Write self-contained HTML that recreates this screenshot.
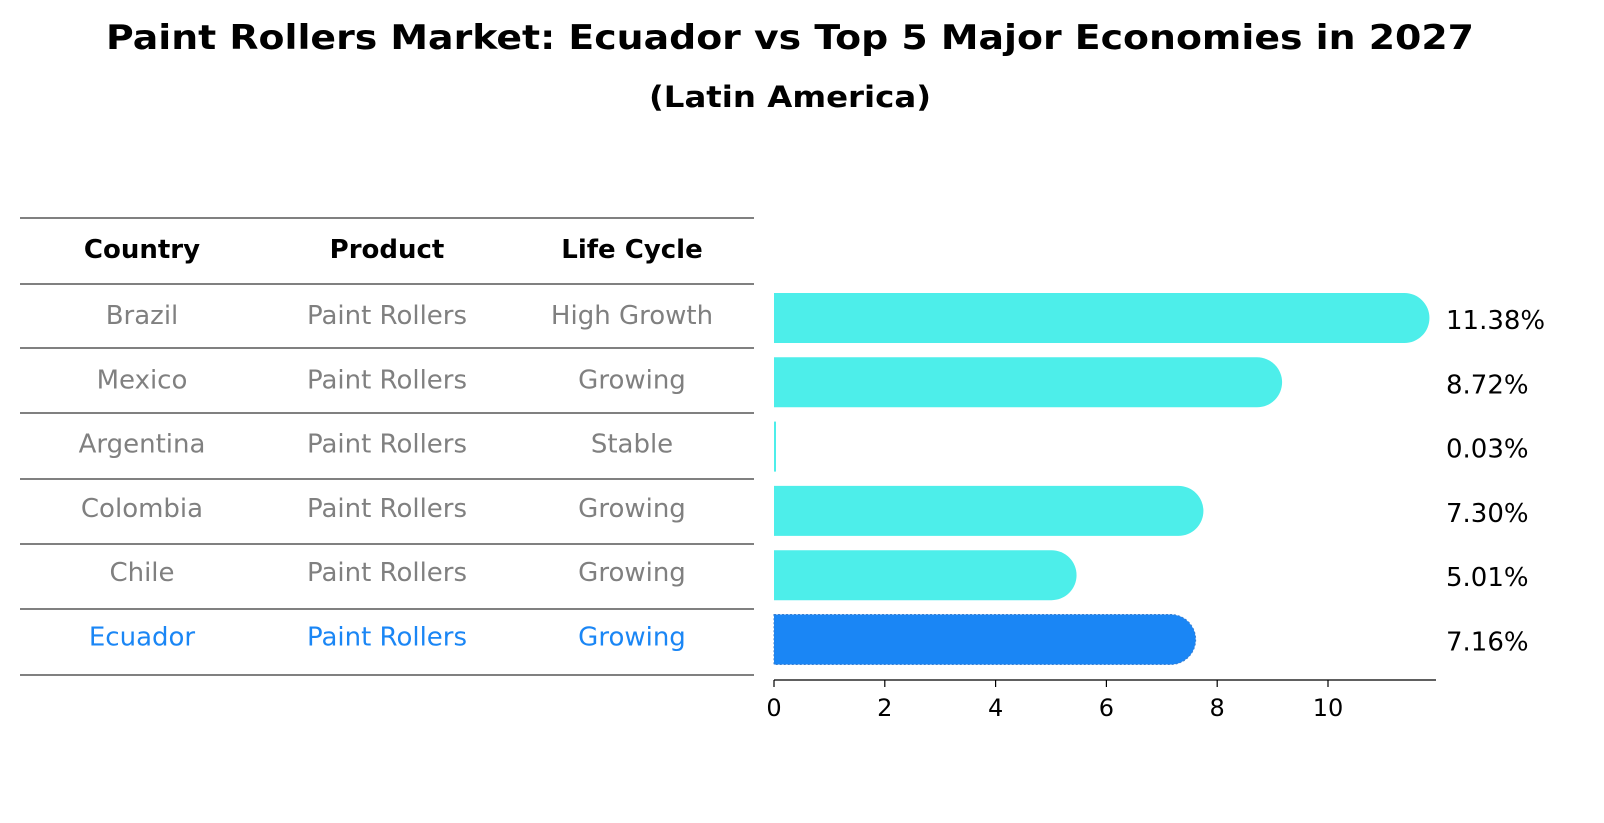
<!DOCTYPE html>
<html><head><meta charset="utf-8"><style>
body{margin:0;background:#fff;}
svg{display:block;font-family:"DejaVu Sans","Liberation Sans",sans-serif;}
</style></head><body>
<svg id="c" width="1604" height="823" viewBox="0 0 1604 823">
<text x="790" y="49" text-anchor="middle" font-size="34" font-weight="bold" textLength="1368" lengthAdjust="spacingAndGlyphs">Paint Rollers Market: Ecuador vs Top 5 Major Economies in 2027</text>
<text x="790" y="107" text-anchor="middle" font-size="29" font-weight="bold" textLength="282" lengthAdjust="spacingAndGlyphs">(Latin America)</text>
<g id="table"></g>
<g id="bars"></g>
</svg>
<script>
const countries=["Brazil","Mexico","Argentina","Colombia","Chile","Ecuador"];
const products=["Paint Rollers","Paint Rollers","Paint Rollers","Paint Rollers","Paint Rollers","Paint Rollers"];
const lifeCycles=["High Growth","Growing","Stable","Growing","Growing","Growing"];
const growth=[11.38,8.72,0.03,7.30,5.01,7.16];
const ticks=[0,2,4,6,8,10];
const NS="http://www.w3.org/2000/svg";
function mk(tag,attrs,parent,txt){const e=document.createElementNS(NS,tag);for(const k in attrs)e.setAttribute(k,attrs[k]);if(txt!==undefined)e.textContent=txt;parent.appendChild(e);return e;}
const X0=774,PX=55.4;
const xs=v=>X0+v*PX;
const rowY=i=>318+i*64.3;
const tb=document.getElementById('table');
const lineYs=[218,284,348,413,479,544,609,675];
lineYs.forEach(y=>{const l=mk('line',{x1:20,x2:754,y1:y,y2:y,stroke:'#000','stroke-width':1},tb);

});
const cx=[142,387,632];
["Country","Product","Life Cycle"].forEach((h,j)=>{const t=mk('text',{x:cx[j],y:258,'text-anchor':'middle','font-size':26,'font-weight':'bold'},tb,h);

});
const bg=document.getElementById('bars');
countries.forEach((c,i)=>{
  const col=i===5?'#1a86f5':'#808080';
  const y=rowY(i);
  [c,products[i],lifeCycles[i]].forEach((v,j)=>{const t=mk('text',{x:cx[j],y:y+6,'text-anchor':'middle','font-size':26,fill:col},tb,v);
  
  });
  const w=xs(growth[i])-X0, h=50, r=25;
  const fill=i===5?'#1a86f5':'#4deeea';
  let d;
  if(w<r){const ww=Math.max(w,2);d=`M${X0},${y-r}h${ww}v${h}h-${ww}z`;}
  else d=`M${X0},${y-r}H${X0+w}A${r},${r} 0 0 1 ${X0+w},${y+r}H${X0}Z`;
  const p=mk('path',{d:d,fill:fill},bg);
  if(i===5){p.setAttribute('stroke','#3a7fd0');p.setAttribute('stroke-dasharray','2,2');p.setAttribute('stroke-width','1');}
  
  
  const lb=mk('text',{x:1446,y:y+11,'font-size':26},bg,growth[i].toFixed(2)+'%');
  
  
});
const ax=mk('line',{x1:X0,x2:1436,y1:680,y2:680,stroke:'#000','stroke-width':1.3},bg);


ticks.forEach(t=>{
  const tl=mk('line',{x1:xs(t),x2:xs(t),y1:680,y2:687,stroke:'#000','stroke-width':1.2},bg);
  
  
  const tt=mk('text',{x:xs(t),y:716,'text-anchor':'middle','font-size':24},bg,String(t));
  
  
});
</script>
</body></html>
